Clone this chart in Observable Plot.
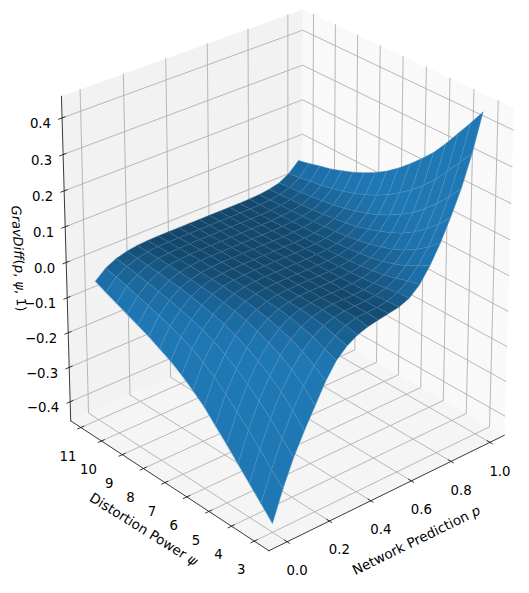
<!DOCTYPE html>
<html><head><meta charset="utf-8">
<style>html,body{margin:0;padding:0;background:#fff}</style>
<script src="https://cdn.jsdelivr.net/npm/d3@7"></script>
<script src="https://cdn.jsdelivr.net/npm/@observablehq/plot@0.6"></script>
</head><body><div id="c"></div>
<script>
const pTicks=[0,.2,.4,.6,.8,1], psiTicks=[3,4,5,6,7,8,9,10,11], zTicks=[-.4,-.3,-.2,-.1,0,.1,.2,.3,.4];
const pLim=[-.085,1.075], psiLim=[2.37,11.5], zLim=[-.456,.459];
const pGrid=[0,.05,.1,.15,.2,.25,.3,.35,.4,.45,.5,.55,.6,.65,.7,.75,.8,.85,.9,.95,1];
const psiGrid=[3,3.5,4,4.5,5,5.5,6,6.5,7,7.5,8,8.5,9,9.5,10,10.5,11];
const z30=[-.431,-.347,-.275,-.215,-.16,-.105,-.062,-.035,-.018,-.008,-.002,.003,.008,.02,.045,.085,.135,.195,.262,.345,.446];
const z35=[-.396,-.315,-.242,-.178,-.125,-.082,-.049,-.025,-.01,-.002,0,.001,.006,.018,.038,.067,.107,.158,.222,.304,.4];
const z40=[-.361,-.278,-.207,-.146,-.098,-.061,-.034,-.016,-.006,-.001,0,.001,.004,.012,.027,.05,.083,.128,.187,.264,.356];
const z45=[-.326,-.245,-.177,-.121,-.078,-.046,-.025,-.011,-.003,0,0,0,.002,.008,.019,.037,.064,.103,.155,.225,.312];
const z50=[-.291,-.213,-.15,-.099,-.062,-.035,-.017,-.007,-.002,0,0,0,.001,.005,.013,.027,.049,.082,.128,.192,.272];
const z55=[-.258,-.183,-.127,-.081,-.048,-.026,-.012,-.005,-.001,0,0,0,.001,.003,.009,.02,.038,.066,.106,.163,.239];
const z60=[-.224,-.155,-.105,-.065,-.037,-.019,-.009,-.003,-.001,0,0,0,0,.002,.006,.015,.029,.053,.087,.139,.208];
const z65=[-.198,-.133,-.088,-.053,-.029,-.014,-.006,-.002,0,0,0,0,0,.001,.004,.011,.022,.042,.071,.117,.18];
const z70=[-.174,-.114,-.074,-.043,-.023,-.011,-.004,-.001,0,0,0,0,0,.001,.003,.008,.017,.033,.058,.098,.155];
const z75=[-.154,-.099,-.063,-.036,-.018,-.008,-.003,-.001,0,0,0,0,0,.001,.002,.006,.013,.026,.048,.083,.135];
const z80=[-.138,-.087,-.054,-.03,-.015,-.006,-.002,-.001,0,0,0,0,0,0,.001,.004,.01,.021,.039,.07,.118];
const z85=[-.122,-.076,-.046,-.024,-.012,-.005,-.002,0,0,0,0,0,0,0,.001,.003,.008,.017,.032,.06,.103];
const z90=[-.109,-.066,-.039,-.02,-.009,-.004,-.001,0,0,0,0,0,0,0,.001,.002,.006,.013,.027,.051,.091];
const z95=[-.096,-.057,-.032,-.016,-.007,-.003,-.001,0,0,0,0,0,0,0,0,.002,.005,.011,.023,.044,.08];
const z100=[-.083,-.047,-.027,-.013,-.005,-.002,-.001,0,0,0,0,0,0,0,0,.001,.004,.009,.019,.039,.072];
const z105=[-.07,-.039,-.021,-.01,-.004,-.001,0,0,0,0,0,0,0,0,0,.001,.003,.007,.016,.033,.063];
const z110=[-.056,-.031,-.016,-.008,-.003,-.001,0,0,0,0,0,0,0,0,0,.001,.002,.006,.013,.029,.056];
const zTable=[z30,z35,z40,z45,z50,z55,z60,z65,z70,z75,z80,z85,z90,z95,z100,z105,z110];
const cam={el:25,az:229.35,dist:10,sx:3140,sy:3595,cx:286,cy:268,shear:.007};
const rad=Math.PI/180;
const nv=[Math.cos(cam.el*rad)*Math.cos(cam.az*rad),Math.cos(cam.el*rad)*Math.sin(cam.az*rad),Math.sin(cam.el*rad)];
const uL=Math.hypot(nv[0],nv[1]);const uv=[-nv[1]/uL,nv[0]/uL,0];
const vv=[nv[1]*uv[2]-nv[2]*uv[1],nv[2]*uv[0]-nv[0]*uv[2],nv[0]*uv[1]-nv[1]*uv[0]];
const dot=(a,b)=>a[0]*b[0]+a[1]*b[1]+a[2]*b[2];
function proj(p,s,z){
 const q=[(p-pLim[0])/(pLim[1]-pLim[0])-.5-cam.dist*nv[0],(s-psiLim[0])/(psiLim[1]-psiLim[0])-.5-cam.dist*nv[1],(z-zLim[0])/(zLim[1]-zLim[0])-.5-cam.dist*nv[2]];
 const w=-dot(q,nv);
 const dx=cam.sx*dot(q,uv)/w;
 return {x:cam.cx+dx,y:cam.cy-cam.sy*dot(q,vv)/w-cam.shear*dx,w};
}
const L=[pLim[0],psiLim[0],zLim[0]],H=[pLim[1],psiLim[1],zLim[1]];
const wall=(id,fill,pts)=>pts.map(a=>({...proj(...a),id,fill}));
const panes=[
 ...wall("r","#f9f9f9",[[H[0],L[1],L[2]],[H[0],H[1],L[2]],[H[0],H[1],H[2]],[H[0],L[1],H[2]]]),
 ...wall("l","#f2f2f2",[[L[0],H[1],L[2]],[H[0],H[1],L[2]],[H[0],H[1],H[2]],[L[0],H[1],H[2]]]),
 ...wall("f","#f5f5f5",[[L[0],L[1],L[2]],[H[0],L[1],L[2]],[H[0],H[1],L[2]],[L[0],H[1],L[2]]])];
let g=[],gid=0;
const seg=(arr,a,b)=>{gid++;arr.push({...proj(...a),id:gid},{...proj(...b),id:gid});};
const poly=(arr,ps)=>{gid++;ps.forEach(a=>arr.push({...proj(...a),id:gid}));};
pTicks.forEach(p=>poly(g,[[p,L[1],L[2]],[p,H[1],L[2]],[p,H[1],H[2]]]));
psiTicks.forEach(s=>poly(g,[[L[0],s,L[2]],[H[0],s,L[2]],[H[0],s,H[2]]]));
zTicks.forEach(z=>poly(g,[[L[0],H[1],z],[H[0],H[1],z],[H[0],L[1],z]]));
let ax=[];
seg(ax,[L[0],L[1],L[2]],[H[0],L[1],L[2]]);seg(ax,[L[0],L[1],L[2]],[L[0],H[1],L[2]]);seg(ax,[L[0],H[1],L[2]],[L[0],H[1],H[2]]);
pTicks.forEach(p=>seg(ax,[p,L[1]-.1,L[2]],[p,L[1]+.12,L[2]]));
psiTicks.forEach(s=>seg(ax,[L[0]-.016,s,L[2]],[L[0]+.014,s,L[2]]));
zTicks.forEach(z=>seg(ax,[L[0]-.016,H[1],z],[L[0]+.014,H[1],z]));
const base=[31,119,180];
const light=[-.667,-.667,.333];
let cells=[];
for(let j=0;j<psiGrid.length-1;j++)for(let i=0;i<pGrid.length-1;i++){
 const P=[[i,j],[i+1,j],[i+1,j+1],[i,j+1]].map(([a,b])=>[pGrid[a],psiGrid[b],zTable[b][a]]);
 const dp=pGrid[i+1]-pGrid[i],ds=psiGrid[j+1]-psiGrid[j];
 const zp=((P[1][2]-P[0][2])+(P[2][2]-P[3][2]))/(2*dp), zs=((P[3][2]-P[0][2])+(P[2][2]-P[1][2]))/(2*ds);
 const n=[-zp,-zs,1],nn=Math.hypot(...n);const sh=dot(n,light)/nn;
 const k=Math.min(1,.6+(sh-.333)*1.1);
 const col=d3.rgb(...base.map(c=>c*k)).formatHex();
 const ln=d3.interpolateRgb(col,"#ffffff")(.2);
 const pr=P.map(a=>proj(...a));const depth=d3.mean(pr,d=>d.w);
 cells.push({pr,depth,col,ln});
}
cells.sort((a,b)=>b.depth-a.depth);
const surf=cells.flatMap((c,i)=>c.pr.map(d=>({x:d.x,y:d.y,id:i,c:c.col,l:c.ln})));
const font="DejaVu Sans",fs=13.3;
const psiL=psiTicks.map(s=>({...proj(L[0],s,L[2]),t:String(s)}));
const pL=pTicks.map(p=>({...proj(p,L[1],L[2]),t:p.toFixed(1)}));
const zL=zTicks.map(z=>({...proj(L[0],H[1],z),t:z.toFixed(1).replace("-","\u2212")}));
const chart=Plot.plot({width:529,height:593,margin:0,style:{background:"#fff",overflow:"visible"},
 x:{domain:[0,529],range:[0,529],axis:null},y:{domain:[0,593],range:[0,593],axis:null},
 marks:[
  Plot.line(panes,{x:"x",y:"y",z:"id",fill:"fill",stroke:"none",curve:"linear-closed"}),
  Plot.line(g,{x:"x",y:"y",z:"id",stroke:"#b0b0b0",strokeWidth:.9}),
  Plot.line(ax,{x:"x",y:"y",z:"id",stroke:"#222",strokeWidth:.9}),
  Plot.line(surf,{x:"x",y:"y",z:"id",fill:"c",stroke:"l",strokeWidth:.45,curve:"linear-closed"}),
  Plot.text(psiL,{x:"x",y:"y",text:"t",dx:-13,dy:29,fontFamily:font,fontSize:fs,fill:"#000"}),
  Plot.text(pL,{x:"x",y:"y",text:"t",dx:10,dy:29,fontFamily:font,fontSize:fs,fill:"#000"}),
  Plot.text(zL,{x:"x",y:"y",text:"t",dx:-11,dy:6,textAnchor:"end",fontFamily:font,fontSize:fs,fill:"#000"}),
  Plot.text(["Distortion Power ψ"],{x:()=>143,y:()=>529,rotate:32,fontFamily:font,fontSize:13.5,fill:"#000"}),
  Plot.text(["Network Prediction p"],{x:()=>416,y:()=>540,rotate:-26,fontFamily:font,fontSize:13.5,fill:"#000"}),
  Plot.text(["GravDiff(p, ψ, 1)"],{x:()=>18,y:()=>258,rotate:87,fontFamily:font,fontSize:13,fontStyle:"italic",fill:"#000"})
 ]});
document.getElementById("c").appendChild(chart);
chart.querySelectorAll("text").forEach(t=>{
 const s=t.textContent;
 if(s==="Distortion Power ψ")t.innerHTML='Distortion Power <tspan font-style="italic">ψ</tspan>';
 if(s==="Network Prediction p")t.innerHTML='Network Prediction <tspan font-style="italic">p</tspan>';
 if(s.startsWith("GravDiff"))t.innerHTML='GravDiff<tspan font-style="normal">(</tspan>p<tspan font-style="normal">,</tspan> ψ<tspan font-style="normal">, 1)</tspan>';
});
</script></body></html>
